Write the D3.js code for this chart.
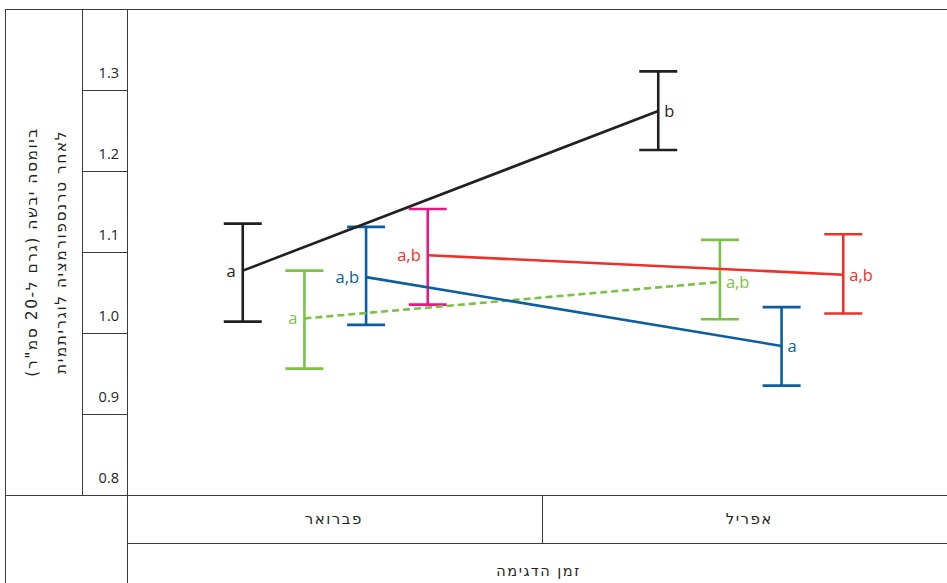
<!DOCTYPE html>
<html lang="he">
<head>
<meta charset="utf-8">
<script src="https://cdn.jsdelivr.net/npm/d3@7"></script>
<style>
  html, body { margin: 0; padding: 0; background: #fff; }
  svg { display: block; }
  .num { font-family: "Open Sans", "Noto Sans", sans-serif; }
  .heb { font-family: "DejaVu Sans", sans-serif; letter-spacing: 1.5px; }
</style>
</head>
<body>
<svg id="chart" width="947" height="583"></svg>
<script>
// Sampling months (categories on the x axis)
const months = ["פברואר", "אפריל"];
// Treatments, drawn left to right inside each month
const series = ["black", "green", "blue", "red"];
// Mean biomass (log-transformed) per treatment: [February, April]
const meanBlack = [1.077, 1.274];
const meanGreen = [1.018, 1.063];
const meanBlue  = [1.069, 0.984];
const meanRed   = [1.096, 1.072];
// Error-bar bounds: [February, April]
const lowBlack  = [1.014, 1.226];
const highBlack = [1.135, 1.323];
const lowGreen  = [0.956, 1.017];
const highGreen = [1.077, 1.115];
const lowBlue   = [1.010, 0.935];
const highBlue  = [1.131, 1.032];
const lowRed    = [1.035, 1.024];
const highRed   = [1.153, 1.122];
// Significance letters: [February, April]
const letBlack = ["a", "b"];
const letGreen = ["a", "a,b"];
const letBlue  = ["a,b", "a"];
const letRed   = ["a,b", "a,b"];
// Y tick labels
const yTicks = [0.8, 0.9, 1.0, 1.1, 1.2, 1.3];
const yTitle = ["ביומסה יבשה (גרם ל-20 סמ\"ר)", "לאחר טרנספורמציה לוגריתמית"];
const xTitle = "זמן הדגימה";

const colors = {
  black: "#231f20",
  green: "#7bc143",
  blue:  "#0b5fa0",
  red:   "#ee3028"
};
const barColors = [
  {black: "#231f20", green: "#7bc143", blue: "#0b5fa0", red: "#e8168b"},
  {black: "#231f20", green: "#7bc143", blue: "#0b5fa0", red: "#ee3028"}
];

const data = {
  black: {mean: meanBlack, low: lowBlack, high: highBlack, lab: letBlack},
  green: {mean: meanGreen, low: lowGreen, high: highGreen, lab: letGreen},
  blue:  {mean: meanBlue,  low: lowBlue,  high: highBlue,  lab: letBlue},
  red:   {mean: meanRed,   low: lowRed,   high: highRed,   lab: letRed}
};

const svg = d3.select("#chart");

// Frame geometry
const frame = {left: 5, top: 9, tickCol: 82, plotLeft: 127, right: 958, plotBottom: 495, catBottom: 543, bottom: 583};

const y = d3.scaleLinear().domain([0.8, 1.4]).range([frame.plotBottom, frame.top]);
const x = d3.scaleBand().domain(months).range([frame.plotLeft, frame.right]).paddingInner(0).paddingOuter(0);
const offset = d3.scalePoint().domain(series).range([-92, 93]);
const px = (s, i) => x(months[i]) + x.bandwidth() / 2 + offset(s);

// Table-style frame lines
const grid = svg.append("g").attr("stroke", "#3a3a3a").attr("stroke-width", 1).attr("shape-rendering", "crispEdges");
const hl = (x1, x2, yy) => grid.append("line").attr("x1", x1).attr("x2", x2).attr("y1", yy).attr("y2", yy);
const vl = (xx, y1, y2) => grid.append("line").attr("x1", xx).attr("x2", xx).attr("y1", y1).attr("y2", y2);
hl(frame.left, 947, frame.top);
vl(frame.left, frame.top, frame.bottom);
vl(frame.tickCol, frame.top, frame.plotBottom);
vl(frame.plotLeft, frame.top, frame.bottom);
hl(frame.left, 947, frame.plotBottom);
hl(frame.plotLeft, 947, frame.catBottom);
vl(x(months[1]), frame.plotBottom, frame.catBottom);

// Y tick cells
yTicks.filter(v => v > 0.8).forEach(v => hl(frame.tickCol, frame.plotLeft, Math.round(y(v)) + 0.5));
svg.append("g").selectAll("text").data(yTicks).join("text")
  .attr("class", "num")
  .attr("x", 119).attr("y", v => y(v) - 12)
  .attr("text-anchor", "end")
  .attr("font-size", 14.5).attr("fill", "#231f20")
  .text(v => v.toFixed(1));

// Y title (two rotated lines)
const yt = svg.append("g").attr("transform", `translate(${(frame.left + frame.tickCol) / 2 + 2},${(frame.top + frame.plotBottom) / 2}) rotate(-90)`);
yt.selectAll("text").data(yTitle).join("text")
  .attr("class", "heb")
  .attr("x", 0).attr("y", (d, i) => -9 + i * 29)
  .attr("text-anchor", "middle").attr("direction", "rtl")
  .attr("font-size", 15.5).attr("fill", "#231f20")
  .text(d => d);

// Month labels
svg.append("g").selectAll("text").data(months).join("text")
  .attr("class", "heb")
  .attr("x", d => x(d) + x.bandwidth() / 2 - 1)
  .attr("y", 524)
  .attr("text-anchor", "middle").attr("direction", "rtl")
  .attr("font-size", 15).attr("fill", "#231f20")
  .text(d => d);

// X title
svg.append("text").attr("class", "heb")
  .attr("x", (frame.plotLeft + frame.right) / 2 - 4).attr("y", 576)
  .attr("text-anchor", "middle").attr("direction", "rtl")
  .attr("font-size", 14.5).attr("fill", "#231f20")
  .text(xTitle);

// Error bars
const capHalf = 19;
const bars = svg.append("g");
series.forEach(s => {
  [0, 1].forEach(i => {
    const g = bars.append("g").attr("stroke", barColors[i][s]).attr("stroke-width", 2.6);
    const cx = px(s, i);
    g.append("line").attr("x1", cx).attr("x2", cx).attr("y1", y(data[s].high[i])).attr("y2", y(data[s].low[i]));
    g.append("line").attr("x1", cx - capHalf).attr("x2", cx + capHalf).attr("y1", y(data[s].high[i])).attr("y2", y(data[s].high[i]));
    g.append("line").attr("x1", cx - capHalf).attr("x2", cx + capHalf).attr("y1", y(data[s].low[i])).attr("y2", y(data[s].low[i]));
  });
});

// Trend lines February -> April
const line = d3.line().x(d => d[0]).y(d => d[1]);
const drawOrder = ["green", "red", "blue", "black"];
drawOrder.forEach(s => {
  svg.append("path")
    .attr("d", line([0, 1].map(i => [px(s, i), y(data[s].mean[i])])))
    .attr("fill", "none")
    .attr("stroke", colors[s])
    .attr("stroke-width", 2.6)
    .attr("stroke-dasharray", s === "green" ? "7,4" : null);
});

// Significance letters: left of February points, right of April points
series.forEach(s => {
  [0, 1].forEach(i => {
    svg.append("text").attr("class", "num")
      .attr("x", i === 0 ? px(s, i) - 7 : px(s, i) + 6)
      .attr("y", y(data[s].mean[i]) + 6)
      .attr("text-anchor", i === 0 ? "end" : "start")
      .attr("font-size", 16.5)
      .attr("fill", colors[s])
      .text(data[s].lab[i]);
  });
});
</script>
</body>
</html>
